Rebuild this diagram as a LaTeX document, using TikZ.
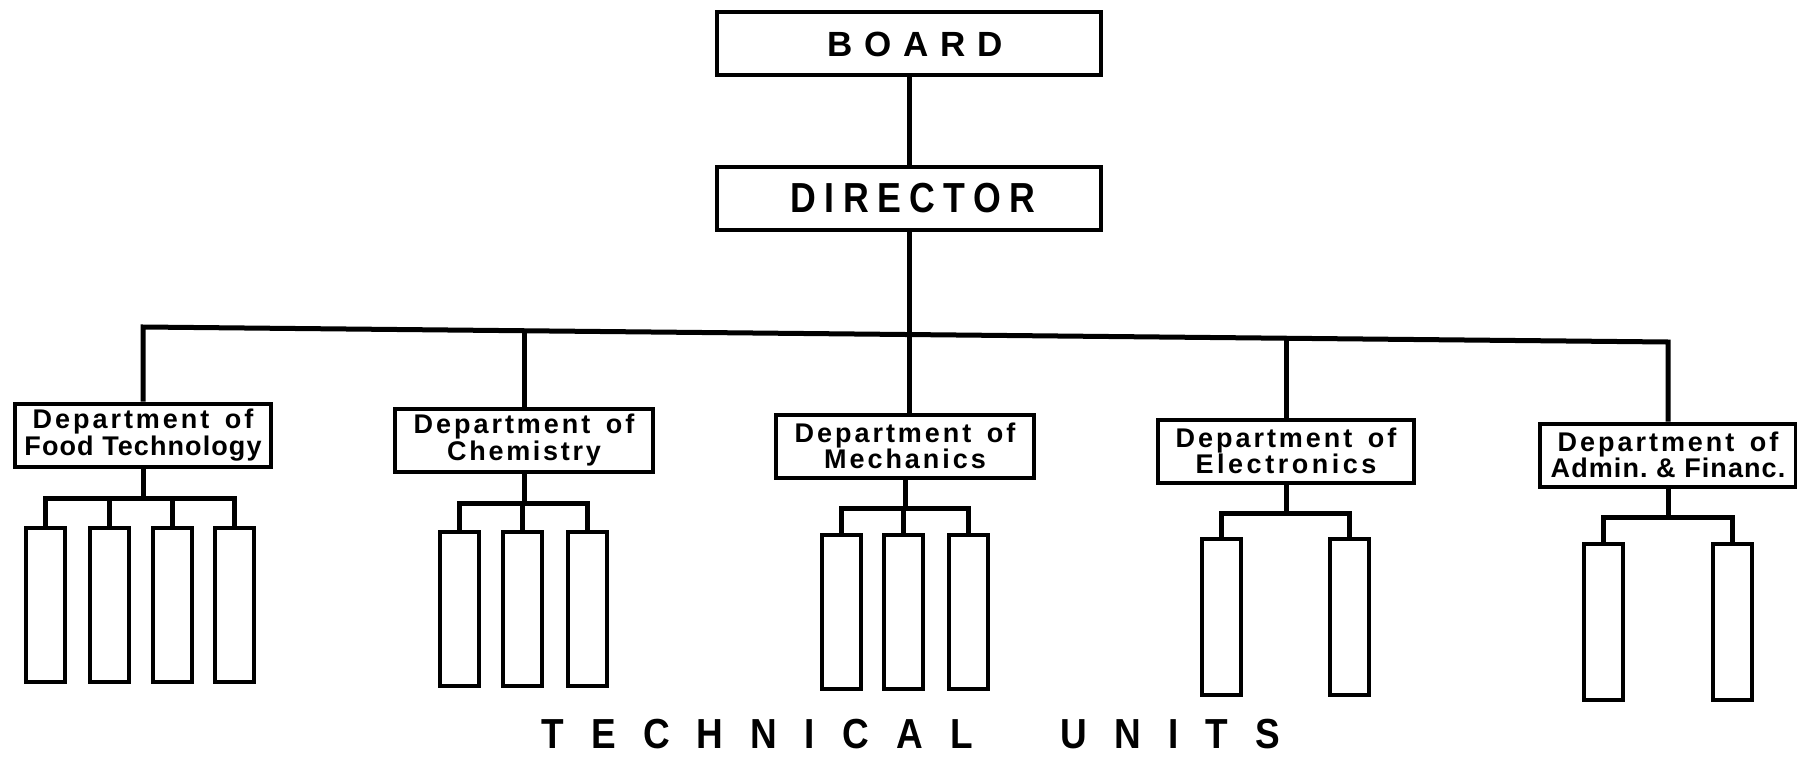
\documentclass[tikz,border=0pt]{standalone}
\usepackage{fontspec}
\setmainfont{Liberation Sans}
\newfontfamily\dirfont[FakeStretch=0.85]{Liberation Sans}
\newfontfamily\tufont[FakeStretch=0.88]{Liberation Sans}
\newcommand\ls[1]{\addfontfeature{LetterSpace=#1}}
\newcommand\dep{{\ls{11}Department\hspace{5pt} of}}
\begin{document}
\begin{tikzpicture}[x=1pt,y=-1pt,
  box/.style={draw, line width=4pt, inner sep=0pt, align=center},
  topbox/.style={box, minimum width=384, minimum height=63},
  deptbox/.style={box, minimum width=256, minimum height=63, font=\bfseries\fontsize{27}{25}\selectfont},
  unitbox/.style={box, minimum width=39, minimum height=154},
  link/.style={line width=5pt}]
\useasboundingbox[fill=white] (0,0) rectangle (1797,760);

% top
\node[topbox, font=\bfseries\fontsize{35}{35}\selectfont\ls{34}] (board) at (909,44) {\kern12pt BOARD};
\node[topbox, font=\dirfont\bfseries\fontsize{42}{42}\selectfont\ls{20}] (dir) at (909,198) {\kern8pt DIRECTOR};

% departments
\node[deptbox] (food) at (143,435) {\dep\\{\ls{4}Food Technology}};
\node[deptbox, minimum width=258] (chem) at (524,440) {\dep\\{\ls{10}Chemistry}};
\node[deptbox, minimum width=258] (mech) at (905,446) {\dep\\{\ls{11}Mechanics}};
\node[deptbox] (elec) at (1286,451) {\dep\\{\ls{13}Electronics}};
\node[deptbox] (admin) at (1668,455) {\dep\\{\ls{4}Admin.\ \& Financ.}};

% technical units
\node[unitbox] (f1) at (45,604.5) {};
\node[unitbox] (f2) at (109,604.5) {};
\node[unitbox] (f3) at (172.5,604.5) {};
\node[unitbox] (f4) at (234,604.5) {};
\node[unitbox] (c1) at (459,608.5) {};
\node[unitbox] (c2) at (522,608.5) {};
\node[unitbox] (c3) at (587,608.5) {};
\node[unitbox] (m1) at (841,612) {};
\node[unitbox] (m2) at (903,612) {};
\node[unitbox] (m3) at (968,612) {};
\node[unitbox, minimum height=156] (e1) at (1221,617) {};
\node[unitbox, minimum height=156] (e2) at (1349,617) {};
\node[unitbox, minimum height=156] (a1) at (1603,622) {};
\node[unitbox, minimum height=156] (a2) at (1732,622) {};

\node[anchor=base west, inner sep=0pt, font=\tufont\bfseries\fontsize{42}{42}\selectfont\ls{65}] (tu) at (541,748) {TECHNICAL\hspace{87pt}UNITS};

% connectors
\coordinate (b1) at (143,327);
\coordinate (b2) at (524,330.7);
\coordinate (b4) at (1286,338.2);
\coordinate (b5) at (1668,342);
\draw[link] (board.south) -- (dir.north);
\draw[link] (dir.south) -- (dir.south |- mech.north);
\draw[link] (food.north) -- (b1) -- (b5) -- (admin.north);
\draw[link] (b2) -- (chem.north);
\draw[link] (b4) -- (elec.north);

\coordinate (s1) at (0,498);
\coordinate (s2) at (0,503);
\coordinate (s3) at (0,508);
\coordinate (s4) at (0,513);
\coordinate (s5) at (0,517);

\draw[link] (food.south) -- (food.south |- s1);
\draw[link] (f1.north) -- (f1.north |- s1) -- (f4.north |- s1) -- (f4.north);
\draw[link] (f2.north |- s1) -- (f2.north);
\draw[link] (f3.north |- s1) -- (f3.north);

\draw[link] (chem.south) -- (chem.south |- s2);
\draw[link] (c1.north) -- (c1.north |- s2) -- (c3.north |- s2) -- (c3.north);
\draw[link] (c2.north |- s2) -- (c2.north);

\draw[link] (mech.south) -- (mech.south |- s3);
\draw[link] (m1.north) -- (m1.north |- s3) -- (m3.north |- s3) -- (m3.north);
\draw[link] (m2.north |- s3) -- (m2.north);

\draw[link] (elec.south) -- (elec.south |- s4);
\draw[link] (e1.north) -- (e1.north |- s4) -- (e2.north |- s4) -- (e2.north);

\draw[link] (admin.south) -- (admin.south |- s5);
\draw[link] (a1.north) -- (a1.north |- s5) -- (a2.north |- s5) -- (a2.north);
\end{tikzpicture}
\end{document}
